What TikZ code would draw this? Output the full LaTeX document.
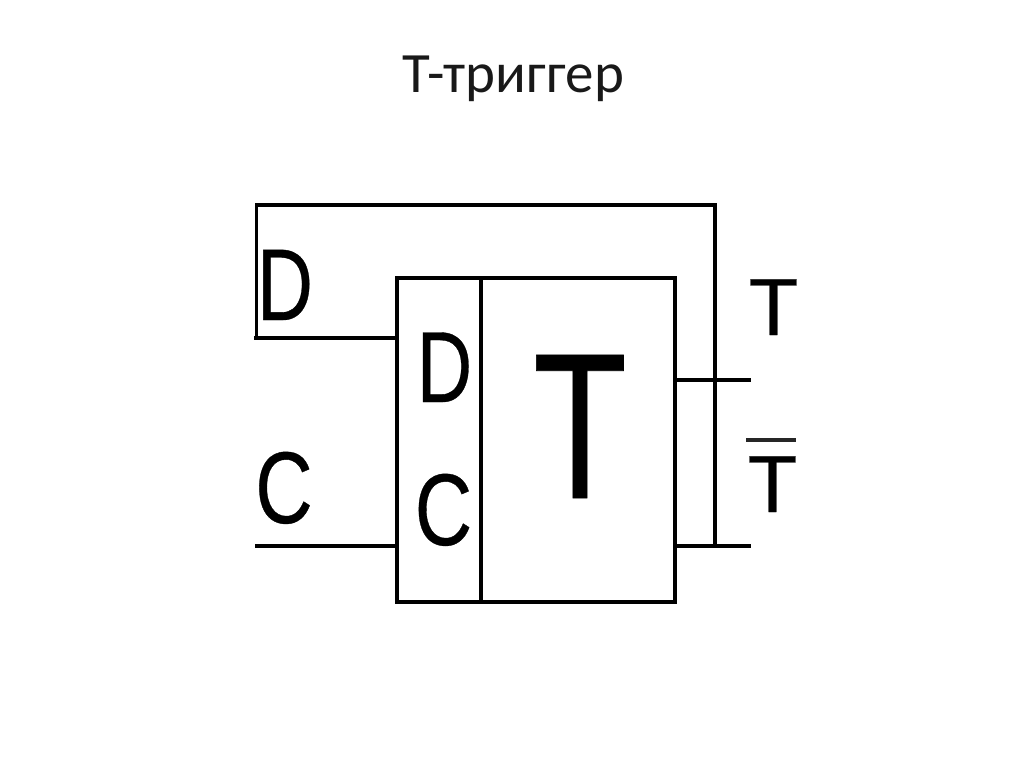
\documentclass[tikz,border=0pt]{standalone}
\usepackage{fontspec}
\setmainfont{Liberation Sans}
\newfontfamily\labelfont{Liberation Sans}[AutoFakeBold=0.35]
\newfontfamily\titlefont{Carlito}
\tikzset{
  wire/.style={draw=black,line width=3.2pt},
  boxline/.style={draw=black,line width=4pt},
  glyph/.style={inner sep=0pt,outer sep=0pt,anchor=base,text=black,font=\labelfont\bfseries},
}
\begin{document}
\begin{tikzpicture}[x=1pt,y=-1pt]
\useasboundingbox (0,0) rectangle (1024,767);
\fill[white] (0,0) rectangle (1024,767);
\node[inner sep=0pt,anchor=base,text=black!90] (title) at (513,93) {\titlefont\fontsize{57}{60}\selectfont Т-триггер};
% block
\node[boxline,rectangle,minimum width=278pt,minimum height=324pt,inner sep=0pt,outer sep=0pt,anchor=north west] (box) at (397,278) {};
\coordinate (divtop) at (481,278);
\coordinate (divbot) at (481,602);
\draw[wire] (divtop) -- (divbot);
% anchors
\coordinate (inD) at (397,338);
\coordinate (inC) at (397,546);
\coordinate (freeD) at (254,338);
\coordinate (freeC) at (255,546);
\coordinate (outQ) at (675,380);
\coordinate (outN) at (675,546);
\coordinate (endQ) at (751,380);
\coordinate (endN) at (751,546);
\coordinate (fbS) at (256.5,338);
\coordinate (fbA) at (256.5,205);
\coordinate (fbB) at (715,205);
\coordinate (fbC) at (715,546);
\coordinate (barL) at (746,440);
\coordinate (barR) at (796,440);
% wires
\draw[wire] (freeD) -- (inD);
\draw[wire] (freeC) -- (inC);
\draw[wire] (outQ) -- (endQ);
\draw[wire] (outN) -- (endN);
\draw[wire,line join=miter] (fbS) -- (fbA) -- (fbB) -- (fbC);
% labels
\node[glyph,xscale=0.76] (d1) at (285,320) {\fontsize{102}{110}\selectfont D};
\node[glyph,xscale=0.76] (d2) at (444.5,402) {\fontsize{101}{110}\selectfont D};
\node[glyph,xscale=0.78] (c1) at (284,523) {\fontsize{102}{110}\selectfont C};
\node[glyph,xscale=0.78] (c2) at (443.5,545) {\fontsize{102}{110}\selectfont C};
\node[glyph,xscale=0.74] (tbig) at (580,498) {\fontsize{208}{210}\selectfont T};
\node[glyph] (t1) at (773.5,335) {\fontsize{81}{85}\selectfont T};
\node[glyph] (t2) at (772.5,512) {\fontsize{81}{85}\selectfont T};
\draw[draw=black!85,line width=3.2pt] (barL) -- (barR);
\end{tikzpicture}
\end{document}
